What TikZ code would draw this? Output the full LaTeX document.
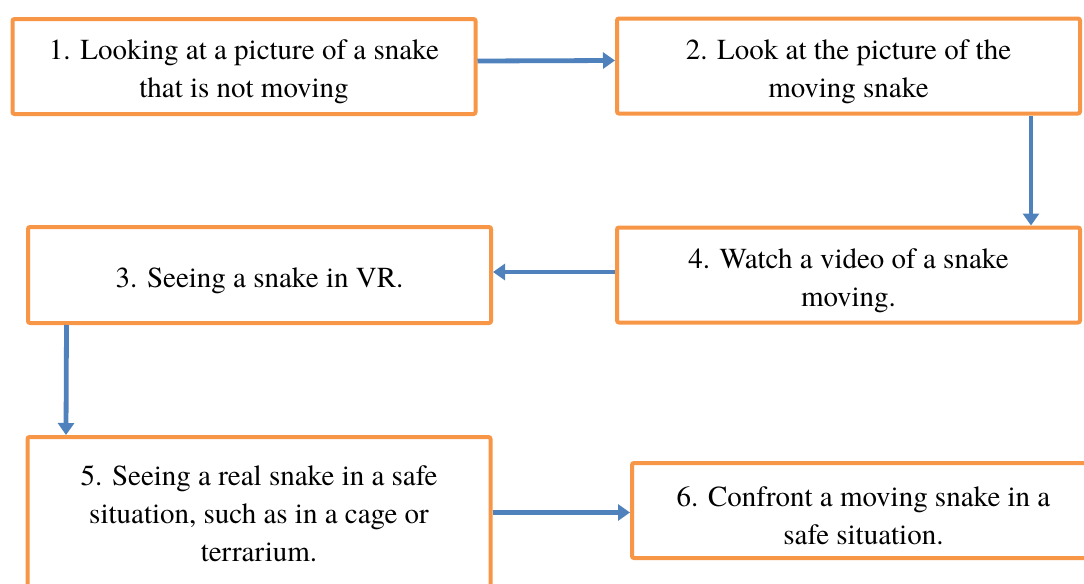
\documentclass[tikz,border=0pt]{standalone}
\usepackage{fontspec}
\setmainfont{texgyretermes-regular.otf}
\usetikzlibrary{arrows.meta}
\definecolor{boxline}{HTML}{F79646}
\definecolor{arrowblue}{HTML}{4F81BD}
\newcommand{\sinkline}{\rule{0pt}{15.5pt}}

\begin{document}
\begin{tikzpicture}[x=.5pt,y=-.5pt,
  stage/.style={draw=boxline,fill=white,line width=2pt,rounded corners=1pt,
    align=center,minimum width=231.5pt,minimum height=47.5pt,inner sep=3pt,
    font=\fontsize{14.5}{19}\selectfont},
  flow/.style={-{Triangle[length=6pt,width=8pt]},line width=2.4pt,draw=arrowblue}]

% page frame; boxes 5 and 6 run past the lower and right edge
\clip (0,0) rectangle (1084,584);

% top row
\node[stage] (s1) at (244,66.5)
  {\sinkline 1. Looking at a picture of a snake\\that is not moving};
\node[stage] (s2) at (848.5,66)
  {\sinkline 2. Look at the picture of the\\moving snake};

% middle row
\node[stage,minimum height=48pt] (s3) at (259.5,275)
  {\sinkline 3. Seeing a snake in VR.};
\node[stage] (s4) at (848.5,275)
  {\sinkline 4. Watch a video of a snake\\moving.};

% bottom row
\node[stage,minimum height=77pt] (s5) at (259,514)
  {5. Seeing a real snake in a safe\\situation, such as in a cage or\\terrarium.};
\node[stage] (s6) at (863.5,510.5)
  {\sinkline 6. Confront a moving snake in a\\safe situation.};

\draw[flow] ([yshift=2.75pt]s1.east)--([yshift=2.75pt]s2.west);
\draw[flow] ([xshift=91.25pt]s2.south)--([xshift=91.25pt]s4.north);
\draw[flow] ([yshift=1.5pt]s4.west)--([yshift=1.5pt]s3.east);
\draw[flow] ([xshift=-96.5pt]s3.south)--([xshift=-96.5pt]s5.north);
\draw[flow] ([yshift=-1pt]s6.west -| s5.east)--([yshift=-1pt]s6.west);
\end{tikzpicture}
\end{document}
